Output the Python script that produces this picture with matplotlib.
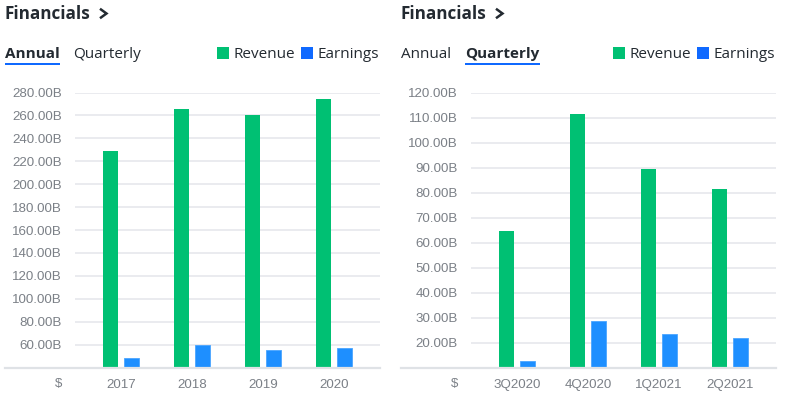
import numpy as np
import matplotlib
matplotlib.use("Agg")
import matplotlib.pyplot as plt
from matplotlib.patches import Rectangle
from matplotlib.lines import Line2D

# annual figures (billions)
years = ["2017", "2018", "2019", "2020"]
annual_revenue = [229.2, 265.6, 260.2, 274.5]
annual_earnings = [48.4, 59.5, 55.3, 57.4]
annual_ticks = [40, 60, 80, 100, 120, 140, 160, 180, 200, 220, 240, 260, 280]

# quarterly figures (billions)
quarters = ["3Q2020", "4Q2020", "1Q2021", "2Q2021"]
quarterly_revenue = [64.7, 111.4, 89.6, 81.4]
quarterly_earnings = [12.7, 28.8, 23.6, 21.7]
quarterly_ticks = [10, 20, 30, 40, 50, 60, 70, 80, 90, 100, 110, 120]

GREEN = "#00c073"
BLUE = "#1e8fff"
LEGEND_BLUE = "#0f69ff"
DARK = "#232a31"
GRAY = "#7b8087"
GRID = "#e6e8ec"

W, H = 803, 398
fig = plt.figure(figsize=(W / 100, H / 100), dpi=100)


def px(x, y):
    # pixel coords (top-left origin) -> figure fraction
    return x / W, 1 - y / H


def panel(x0, cats, revenue, earnings, ticks, active):
    # header
    fig.text(*px(x0 + 5, 14), "Financials", fontsize=12.3, fontweight="bold",
             family="Open Sans", color=DARK, va="center", ha="left")
    cx, cy = zip(px(x0 + 101, 9.5), px(x0 + 106.5, 13.5), px(x0 + 101, 17.5))
    fig.add_artist(Line2D(cx, cy, transform=fig.transFigure, color=DARK,
                          lw=1.8, solid_joinstyle="miter"))

    fig.text(*px(x0 + 5, 54), "Annual", fontsize=11, family="Open Sans",
             fontweight="bold" if active == "Annual" else "normal",
             color=DARK, va="center", ha="left")
    qx = x0 + 73 if active == "Annual" else x0 + 69
    fig.text(*px(qx, 54), "Quarterly", fontsize=11, family="Open Sans",
             fontweight="bold" if active == "Quarterly" else "normal",
             color=DARK, va="center", ha="left")
    if active == "Annual":
        ux0, ux1 = x0 + 5, x0 + 60
    else:
        ux0, ux1 = x0 + 69, x0 + 144
    fig.add_artist(Rectangle(px(ux0, 65), (ux1 - ux0) / W, 2 / H,
                             transform=fig.transFigure, color="#0f69ff", lw=0))

    # legend
    fig.add_artist(Rectangle(px(x0 + 217, 59), 12 / W, 12 / H,
                             transform=fig.transFigure, color=GREEN, lw=0))
    fig.text(*px(x0 + 234, 54), "Revenue", fontsize=11, family="Open Sans",
             color=DARK, va="center", ha="left")
    fig.add_artist(Rectangle(px(x0 + 301, 59), 12 / W, 12 / H,
                             transform=fig.transFigure, color=LEGEND_BLUE, lw=0))
    fig.text(*px(x0 + 318, 54), "Earnings", fontsize=11, family="Open Sans",
             color=DARK, va="center", ha="left")

    # plot area
    left, right, top, bottom = x0 + 75, x0 + 380, 92.5, 367.5
    ax = fig.add_axes([left / W, 1 - bottom / H, (right - left) / W, (bottom - top) / H])
    x = np.arange(len(cats))
    ax.bar(x - 0.148, revenue, width=0.211, color=GREEN, zorder=3)
    ax.bar(x + 0.148, earnings, width=0.211, color=BLUE, edgecolor="#4aa5ff",
           linewidth=0.6, zorder=3)
    ax.set_ylim(ticks[0], ticks[-1])
    ax.set_xlim(-0.648, len(cats) - 1 + 0.648)
    ax.set_yticks(ticks[1:])
    ax.set_yticklabels([f"{t:.2f}B" for t in ticks[1:]])
    for t in ticks[1:]:
        ax.axhline(t, color=GRID, lw=1.2, zorder=1)
    for s in ax.spines.values():
        s.set_visible(False)
    ax.set_xticks(x)
    ax.set_xticklabels(cats)
    ax.tick_params(length=0, labelsize=9.6, labelcolor=GRAY)
    ax.tick_params(axis="y", pad=9.4)
    ax.tick_params(axis="x", pad=8)
    for lab in ax.get_xticklabels() + ax.get_yticklabels():
        lab.set_family("Liberation Sans")

    # baseline runs under the "$" label too
    bx, by = zip(px(x0 + 5, bottom), px(right, bottom))
    fig.add_artist(Line2D(bx, by, transform=fig.transFigure, color="#dfe2e6",
                          lw=1.6, zorder=5))
    fig.text(*px(x0 + 62, 384), "$", fontsize=9.6, family="Liberation Sans",
             color=GRAY, ha="right", va="center")
    return ax


panel(0, years, annual_revenue, annual_earnings, annual_ticks, "Annual")
panel(396, quarters, quarterly_revenue, quarterly_earnings, quarterly_ticks, "Quarterly")

fig.savefig("out.png", dpi=100, facecolor="white")
